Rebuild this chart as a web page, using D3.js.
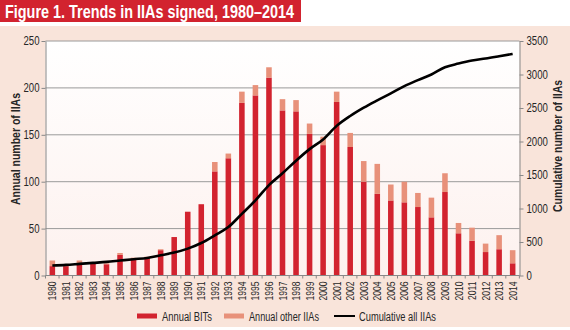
<!DOCTYPE html>
<html>
<head>
<meta charset="utf-8">
<script src="https://cdn.jsdelivr.net/npm/d3@7"></script>
<style>
  body { margin: 0; background: #fff; }
  svg { display: block; font-family: "Liberation Sans", Arial, sans-serif; }
</style>
</head>
<body>
<svg id="chart" width="570" height="330"></svg>
<script>
const years = d3.range(1980, 2015).map(String);
const annualBITs = [10, 10, 12, 13, 12, 22, 18, 19, 27, 41, 68, 76, 111, 125, 184, 192, 211, 176, 175, 151, 139, 185, 137, 100, 87, 80, 78, 73, 62, 89, 45, 37, 25, 28, 13];
const annualOther = [6, 1, 4, 1, 1, 2, 1, 1, 1, 0, 0, 0, 10, 5, 12, 11, 11, 12, 12, 11, 9, 11, 15, 22, 32, 17, 22, 15, 21, 20, 11, 14, 9, 15, 14];
const cumulative = [149, 158, 173, 188, 203, 223, 243, 262, 302, 342, 401, 485, 600, 723, 920, 1120, 1350, 1525, 1713, 1886, 2030, 2233, 2381, 2505, 2614, 2718, 2827, 2916, 3000, 3109, 3163, 3208, 3238, 3272, 3307];
const leftTicks = [0, 50, 100, 150, 200, 250];
const rightTicks = [0, 500, 1000, 1500, 2000, 2500, 3000, 3500];

const RED = "#d2232f", PINK = "#e8917a", PANEL = "#f9e4da", INK = "#262626";
const m = { left: 45.5, right: 519.5, top: 41, bottom: 275.5 };

// no narrow face installed, so squeeze regular glyphs horizontally
function squeeze(sel, k) {
  sel.each(function () {
    const w = this.getComputedTextLength();
    d3.select(this).attr("textLength", w * k).attr("lengthAdjust", "spacingAndGlyphs");
  });
}

const svg = d3.select("#chart");

// title strip
svg.append("rect").attr("x", 0).attr("y", 0).attr("width", 301).attr("height", 22).attr("fill", RED);
svg.append("text").attr("x", 5).attr("y", 17.5)
  .attr("fill", "#fff").attr("font-weight", "bold").attr("font-size", 18)
  .attr("textLength", 289).attr("lengthAdjust", "spacingAndGlyphs")
  .text("Figure 1. Trends in IIAs signed, 1980\u20132014");

// panel
svg.append("rect").attr("x", 0).attr("y", 26).attr("width", 570).attr("height", 301).attr("fill", PANEL);

const grad = svg.append("defs").append("linearGradient").attr("id", "plotbg")
  .attr("x1", 0).attr("y1", 0).attr("x2", 0).attr("y2", 1);
grad.append("stop").attr("offset", "0%").attr("stop-color", "#ffffff");
grad.append("stop").attr("offset", "100%").attr("stop-color", "#fdf1ee");
svg.append("rect").attr("x", m.left).attr("y", m.top)
  .attr("width", m.right - m.left).attr("height", m.bottom - m.top)
  .attr("fill", "url(#plotbg)");

const x = d3.scaleBand().domain(years).range([m.left, m.right]).paddingInner(0.59).paddingOuter(0.3);
const y = d3.scaleLinear().domain([0, 250]).range([m.bottom, m.top]);
const y2 = d3.scaleLinear().domain([0, 3500]).range([m.bottom, m.top]);

// gridlines
svg.append("g").selectAll("line").data(leftTicks.slice(1)).join("line")
  .attr("x1", m.left).attr("x2", m.right)
  .attr("y1", d => y(d)).attr("y2", d => y(d))
  .attr("stroke", "#9a9a9a").attr("stroke-width", 1);

// bars
const bars = svg.append("g");
bars.selectAll(".bit").data(years).join("rect").attr("class", "bit")
  .attr("x", d => x(d)).attr("width", x.bandwidth())
  .attr("y", (d, i) => y(annualBITs[i]))
  .attr("height", (d, i) => y(0) - y(annualBITs[i]))
  .attr("fill", RED);
bars.selectAll(".other").data(years).join("rect").attr("class", "other")
  .attr("x", d => x(d)).attr("width", x.bandwidth())
  .attr("y", (d, i) => y(annualBITs[i] + annualOther[i]))
  .attr("height", (d, i) => y(annualBITs[i]) - y(annualBITs[i] + annualOther[i]))
  .attr("fill", PINK);

// cumulative line
const line = d3.line()
  .x((d, i) => x(years[i]) + x.bandwidth() / 2)
  .y(d => y2(d))
  .curve(d3.curveMonotoneX);
svg.append("path").datum(cumulative).attr("d", line)
  .attr("fill", "none").attr("stroke", "#000").attr("stroke-width", 2.6);

// axes
const styleAxis = g => {
  g.attr("font-family", null);
  g.selectAll(".domain").attr("stroke", "#888");
  g.selectAll(".tick line").attr("stroke", "#888");
  g.selectAll("text").attr("fill", INK).attr("font-size", 12).call(squeeze, 0.8);
};
svg.append("g").attr("transform", `translate(${m.left},0)`)
  .call(d3.axisLeft(y).tickValues(leftTicks).tickFormat(d3.format("d")).tickSize(4).tickPadding(2).tickSizeOuter(0))
  .call(styleAxis);
svg.append("g").attr("transform", `translate(${m.right},0)`)
  .call(d3.axisRight(y2).tickValues(rightTicks).tickFormat(d3.format("d")).tickSize(4).tickPadding(3).tickSizeOuter(0))
  .call(styleAxis);

const xAxis = svg.append("g").attr("transform", `translate(0,${m.bottom})`);
xAxis.append("line").attr("x1", m.left).attr("x2", m.right).attr("stroke", "#888");
xAxis.selectAll(".tk").data(d3.range(years.length + 1)).join("line").attr("class", "tk")
  .attr("x1", i => m.left + i * x.step() - x.step() * 0.3 + x.step() * 0.3)
  .attr("x2", i => m.left + i * x.step() - x.step() * 0.3 + x.step() * 0.3)
  .attr("y1", 0).attr("y2", 3).attr("stroke", "#888");
xAxis.selectAll("text").data(years).join("text")
  .attr("transform", d => `translate(${x(d) + x.bandwidth() / 2 + 4},6) rotate(-90)`)
  .attr("text-anchor", "end").attr("font-size", 11).attr("fill", INK)
  .text(d => d)
  .call(squeeze, 0.78);

// axis titles
svg.append("text").attr("transform", "translate(19.5,149) rotate(-90)")
  .attr("text-anchor", "middle").attr("font-weight", "bold").attr("font-size", 13).attr("fill", INK)
  .attr("textLength", 112).attr("lengthAdjust", "spacingAndGlyphs")
  .text("Annual number of IIAs");
svg.append("text").attr("transform", "translate(561.5,146) rotate(-90)")
  .attr("text-anchor", "middle").attr("font-weight", "bold").attr("font-size", 13).attr("fill", INK)
  .attr("textLength", 132).attr("lengthAdjust", "spacingAndGlyphs")
  .text("Cumulative number of IIAs");

// legend
const legend = svg.append("g").attr("transform", "translate(0,316)");
const items = [
  { label: "Annual BITs", x: 137, w: 50, type: "rect", color: RED },
  { label: "Annual other IIAs", x: 224, w: 70, type: "rect", color: PINK },
  { label: "Cumulative all IIAs", x: 334, w: 77, type: "line", color: "#000" }
];
items.forEach(it => {
  if (it.type === "rect") {
    legend.append("rect").attr("x", it.x).attr("y", -2.5).attr("width", 20).attr("height", 5).attr("fill", it.color);
  } else {
    legend.append("line").attr("x1", it.x).attr("x2", it.x + 21).attr("stroke", it.color).attr("stroke-width", 2);
  }
  legend.append("text").attr("x", it.x + 25).attr("y", 4.5).attr("font-size", 12).attr("fill", INK)
    .attr("textLength", it.w).attr("lengthAdjust", "spacingAndGlyphs")
    .text(it.label);
});
</script>
</body>
</html>
